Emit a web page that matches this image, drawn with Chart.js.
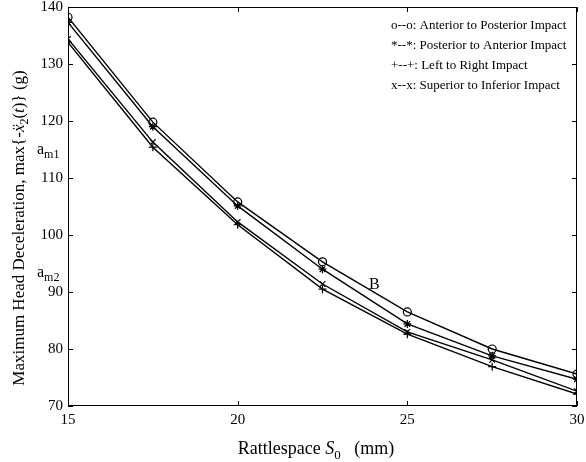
<!DOCTYPE html>
<html><head><meta charset="utf-8">
<script src="https://cdn.jsdelivr.net/npm/chart.js@4"></script>
<style>html,body{margin:0;padding:0;background:#fff}#wrap{width:586px;height:462px;position:relative}</style>
</head><body><div id="wrap"><canvas id="c"></canvas></div>
<script>
const rattlespace = [15, 17.5, 20, 22.5, 25, 27.5, 30];
const anteriorPosterior = [138.2, 119.8, 105.8, 95.3, 86.5, 80.0, 75.6];
const posteriorAnterior = [137.3, 119.0, 105.1, 94.0, 84.4, 78.8, 74.7];
const superiorInferior = [134.4, 116.3, 102.3, 91.4, 83.0, 78.1, 72.6];
const leftRight = [133.8, 115.4, 101.8, 90.5, 82.6, 76.9, 72.1];
const xTicks = [15, 20, 25, 30];
const yTicks = [70, 80, 90, 100, 110, 120, 130, 140];
const legendLabels = [
  'o--o: Anterior to Posterior Impact',
  '*--*: Posterior to Anterior Impact',
  '+--+: Left to Right Impact',
  'x--x: Superior to Inferior Impact'
];

const SERIF = '"Liberation Serif", "Times New Roman", serif';
function pts(v){ return rattlespace.map((x,i)=>({x:x,y:v[i]})); }
function ds(v, style){
  return {data: pts(v), borderColor:'#000', borderWidth:1.4, pointStyle:style,
    pointRadius:4, pointBorderColor:'#000', pointBackgroundColor:'rgba(0,0,0,0)',
    pointBorderWidth:1.2, tension:0, fill:false, showLine:true};
}

const deco = {
  id:'deco',
  afterDraw(chart){
    const ctx = chart.ctx, a = chart.chartArea;
    const xs = chart.scales.x, ys = chart.scales.y;
    ctx.save();
    ctx.strokeStyle = '#000'; ctx.lineWidth = 1;
    ctx.strokeRect(Math.round(a.left)+0.5, Math.round(a.top)+0.5, Math.round(a.right-a.left)-1, Math.round(a.bottom-a.top)-1);
    const tl = 5;
    ctx.beginPath();
    xTicks.forEach(v=>{ const p = Math.round(xs.getPixelForValue(v))+0.5;
      ctx.moveTo(p,a.bottom); ctx.lineTo(p,a.bottom-tl); ctx.moveTo(p,a.top); ctx.lineTo(p,a.top+tl); });
    yTicks.forEach(v=>{ const p = Math.round(ys.getPixelForValue(v))+0.5;
      ctx.moveTo(a.left,p); ctx.lineTo(a.left+tl,p); ctx.moveTo(a.right,p); ctx.lineTo(a.right-tl,p); });
    ctx.stroke();

    ctx.fillStyle = '#000';
    ctx.textBaseline = 'alphabetic';
    // legend
    ctx.font = '13px ' + SERIF;
    ctx.textAlign = 'left';
    legendLabels.forEach((t,i)=>{ ctx.fillText(t, 391, 29 + i*20); });
    // B label
    ctx.font = '16px ' + SERIF;
    ctx.fillText('B', 369, 289);
    // a_m1, a_m2
    function sub(base, s, x, y){
      ctx.font = '16px ' + SERIF; ctx.fillText(base, x, y);
      const w = ctx.measureText(base).width;
      ctx.font = '12px ' + SERIF; ctx.fillText(s, x+w, y+4);
    }
    sub('a', 'm1', 37, 154);
    sub('a', 'm2', 37, 277);

    function drawParts(parts, cx, y){
      let tw = 0; parts.forEach(p=>{ ctx.font=p.f; p.w=ctx.measureText(p.t).width; tw+=p.w; });
      let x = cx - tw/2;
      parts.forEach(p=>{ ctx.font=p.f; ctx.fillText(p.t, x, y+p.dy); x+=p.w; });
    }
    // x title
    drawParts([
      {t:'Rattlespace ', f:'18px '+SERIF, dy:0},
      {t:'S', f:'italic 18px '+SERIF, dy:0},
      {t:'0', f:'13px '+SERIF, dy:5},
      {t:'   (mm)', f:'18px '+SERIF, dy:0}
    ], 316, 454);
    // y title
    ctx.save();
    ctx.translate(24, 228);
    ctx.rotate(-Math.PI/2);
    drawParts([
      {t:'Maximum Head Deceleration, max{-', f:'17px '+SERIF, dy:0},
      {t:'x\u0308', f:'italic 17px '+SERIF, dy:0},
      {t:'2', f:'12px '+SERIF, dy:4},
      {t:'(', f:'17px '+SERIF, dy:0},
      {t:'t', f:'italic 17px '+SERIF, dy:0},
      {t:')} (g)', f:'17px '+SERIF, dy:0}
    ], 0, 0);
    ctx.restore();
    ctx.restore();
  }
};

new Chart(document.getElementById('c'), {
  type:'line',
  data:{datasets:[ds(anteriorPosterior,'circle'), ds(posteriorAnterior,'star'), ds(leftRight,'cross'), ds(superiorInferior,'crossRot')]},
  options:{
    responsive:true, maintainAspectRatio:false, animation:false,
    layout:{padding:{left:0,right:9,top:7,bottom:0}},
    plugins:{legend:{display:false}, tooltip:{enabled:false}},
    scales:{
      x:{type:'linear', min:15, max:30,
        afterBuildTicks(s){ s.ticks = xTicks.map(v=>({value:v})); },
        afterFit(s){ s.height = 56; s.paddingLeft = 0; s.paddingRight = 0; },
        grid:{display:false, drawTicks:false}, border:{display:false},
        ticks:{color:'#000', font:{family:SERIF, size:15}, padding:5, maxRotation:0, autoSkip:false}},
      y:{type:'linear', min:70, max:140,
        afterBuildTicks(s){ s.ticks = yTicks.map(v=>({value:v})); },
        afterFit(s){ s.width = 68; s.paddingTop = 0; s.paddingBottom = 0; },
        grid:{display:false, drawTicks:false}, border:{display:false},
        ticks:{color:'#000', font:{family:SERIF, size:15}, padding:5, autoSkip:false}}
    }
  },
  plugins:[deco]
});
</script></body></html>
